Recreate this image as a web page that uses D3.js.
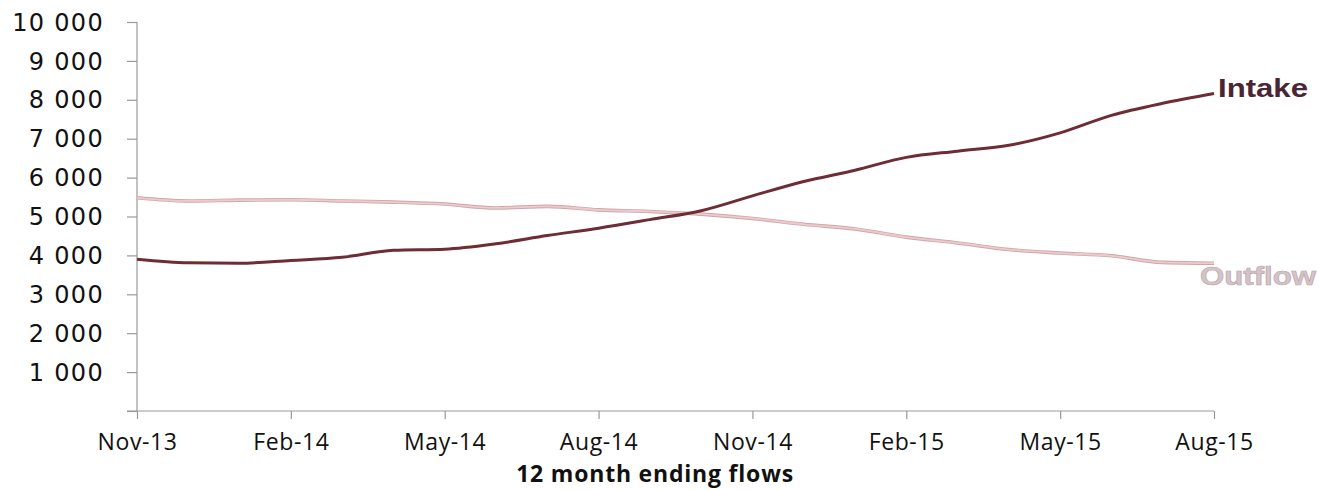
<!DOCTYPE html>
<html><head><meta charset="utf-8">
<script src="https://cdn.jsdelivr.net/npm/d3@7"></script>
<style>body{margin:0;background:#fff;}</style>
</head><body><svg id="c" width="1319" height="490"></svg>
<script>
const months = ["Nov-13","Dec-13","Jan-14","Feb-14","Mar-14","Apr-14","May-14","Jun-14","Jul-14","Aug-14","Sep-14","Oct-14","Nov-14","Dec-14","Jan-15","Feb-15","Mar-15","Apr-15","May-15","Jun-15","Jul-15","Aug-15"];
const intake = [3900,3810,3800,3870,3950,4130,4160,4300,4510,4700,4920,5150,5530,5900,6190,6520,6680,6830,7150,7600,7910,8160];
const outflow = [5480,5400,5420,5430,5400,5370,5320,5220,5260,5170,5130,5060,4950,4800,4680,4470,4320,4150,4060,3990,3820,3800];
const xTickLabels = ["Nov-13","Feb-14","May-14","Aug-14","Nov-14","Feb-15","May-15","Aug-15"];
const yTicks = [1000,2000,3000,4000,5000,6000,7000,8000,9000,10000];
const xTitle = "12 month ending flows";

const svg = d3.select("#c");
const x = d3.scalePoint().domain(months).range([137,1214]);
const y = d3.scaleLinear().domain([0,10000]).range([411,22]);
const fmt = v => d3.format(",")(v).replace(",", " ");

// y axis
const ya = svg.append("g").attr("transform","translate(137,0)")
  .call(d3.axisLeft(y).tickValues([0].concat(yTicks)).tickSize(10).tickPadding(23).tickFormat(v => v===0 ? "" : fmt(v)));
ya.select(".domain").attr("stroke","#999").attr("stroke-width",1.2).attr("d","M0,411V22");
ya.selectAll(".tick line").attr("stroke","#999").attr("stroke-width",1.2);
ya.selectAll(".tick text").attr("font-family","DejaVu Sans").attr("font-size",24).attr("fill","#111").attr("letter-spacing","1.3px").attr("dy","0.34em");

// x axis
const xa = svg.append("g").attr("transform","translate(0,411)")
  .call(d3.axisBottom(x).tickValues(xTickLabels).tickSize(8).tickPadding(15));
xa.select(".domain").attr("stroke","#999").attr("stroke-width",1.2).attr("d","M127,0H1214");
xa.selectAll(".tick line").attr("stroke","#999").attr("stroke-width",1.2);
xa.selectAll(".tick text").attr("font-family","Open Sans").attr("font-size",23).attr("fill","#111").attr("letter-spacing","0.6px");

svg.append("text").attr("x",655).attr("y",482).attr("text-anchor","middle")
  .attr("font-family","Open Sans").attr("font-weight","bold").attr("font-size",23).attr("fill","#111")
  .attr("letter-spacing","0.8px").text(xTitle);

const line = d3.line().x((d,i)=>x(months[i])).y(d=>y(d)).curve(d3.curveMonotoneX);

// outflow: pale pink with soft grey edge
svg.append("path").datum(outflow).attr("d",line).attr("fill","none").attr("stroke","#c9a9ad").attr("stroke-width",3.6);
svg.append("path").datum(outflow).attr("d",line).attr("fill","none").attr("stroke","#f2c8cc").attr("stroke-width",1.8);
// intake
svg.append("path").datum(intake).attr("d",line).attr("fill","none").attr("stroke","#6e2c34").attr("stroke-width",3);

svg.append("text").attr("x",1218).attr("y",97)
  .attr("font-family","Liberation Sans").attr("font-weight","bold").attr("font-size",25)
  .attr("textLength",90).attr("lengthAdjust","spacingAndGlyphs").attr("fill","#4a2535").text("Intake");
svg.append("text").attr("x",1200).attr("y",285)
  .attr("font-family","Liberation Sans").attr("font-weight","bold").attr("font-size",25)
  .attr("textLength",116).attr("lengthAdjust","spacingAndGlyphs")
  .attr("fill","#d4c4c8").attr("stroke","#b8a4aa").attr("stroke-width",0.6).text("Outflow");
</script></body></html>
